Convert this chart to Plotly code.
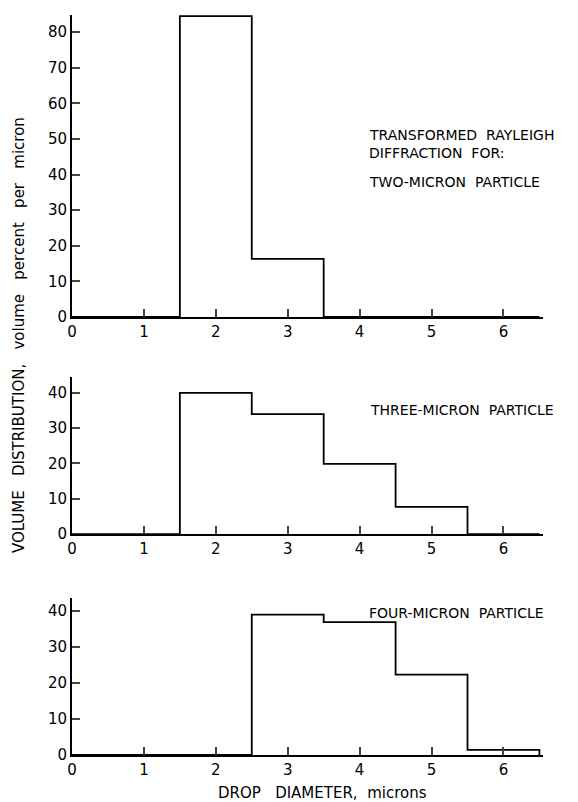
import plotly.graph_objects as go

edges = [0, 1.5, 2.5, 3.5, 4.5, 5.5, 6.5]
two_micron = [0, 84.5, 16.3, 0, 0, 0]
three_micron = [0, 40, 34, 19.9, 7.7, 0]
four_micron = [0, 0, 39, 36.9, 22.3, 1.4]
x_ticks = [0, 1, 2, 3, 4, 5, 6]
labels = ["TWO-MICRON PARTICLE", "THREE-MICRON PARTICLE", "FOUR-MICRON PARTICLE"]

FONT = "DejaVu Sans"
nb = "\u00a0"

# page body has an 8px margin; the plot area is placed to match the reference
W, H = 570, 794
fig = go.Figure()

series = [two_micron, three_micron, four_micron]
axes = [("x", "y"), ("x2", "y2"), ("x3", "y3")]
for vals, (xa, ya) in zip(series, axes):
    xs = list(edges)
    ys = list(vals) + [0]
    fig.add_trace(go.Scatter(x=xs, y=ys, mode="lines", line=dict(shape="hv", color="black", width=1.8),
                             xaxis=xa, yaxis=ya, showlegend=False, hoverinfo="skip"))

tickfont = dict(family=FONT, size=15, color="black")
xcommon = dict(range=[0, 6.55], tickvals=x_ticks, ticks="inside", ticklen=8, tickwidth=1.8,
               showline=True, linecolor="black", linewidth=2, showgrid=False, zeroline=False,
               tickfont=tickfont)
ycommon = dict(ticks="inside", ticklen=8, tickwidth=1.8, showline=True, linecolor="black",
               linewidth=2, showgrid=False, zeroline=False, tickfont=tickfont)

fig.update_layout(
    width=W, height=H, plot_bgcolor="white", paper_bgcolor="white",
    margin=dict(l=64, r=35, t=7, b=47),
    xaxis=dict(domain=[0, 1], anchor="y", **xcommon),
    yaxis=dict(domain=[0.592, 1.0], range=[0, 84.8], tickvals=list(range(0, 90, 10)), anchor="x", **ycommon),
    xaxis2=dict(domain=[0, 1], anchor="y2", **xcommon),
    yaxis2=dict(domain=[0.2986, 0.5108], range=[0, 44.5], tickvals=[0, 10, 20, 30, 40], anchor="x2", **ycommon),
    xaxis3=dict(domain=[0, 1], anchor="y3", **xcommon),
    yaxis3=dict(domain=[0, 0.2122], range=[0, 43.6], tickvals=[0, 10, 20, 30, 40], anchor="x3", **ycommon),
)

PX0, PW = 72, 463   # page x of plot left, plot width
PY1, PH = 755, 740  # page y of plot bottom, plot height


def px(x):
    return (x - PX0) / PW


def py(y):
    return (PY1 - y) / PH


ann_font = dict(family=FONT, size=14, color="black")
texts = [
    (362, 135, f"TRANSFORMED{nb*2}RAYLEIGH"),
    (362, 153, f"DIFFRACTION{nb*2}FOR:"),
    (362, 182, labels[0].replace(" ", nb * 2)),
    (363, 410, labels[1].replace(" ", nb * 2)),
    (362, 613, labels[2].replace(" ", nb * 2)),
]
for x, y, t in texts:
    fig.add_annotation(xref="paper", yref="paper", x=px(x), y=py(y), text=t, showarrow=False,
                       xanchor="left", yanchor="middle", font=ann_font)

ytitle = f"VOLUME{nb*3}DISTRIBUTION,{nb*3}volume{nb*3}percent{nb*3}per{nb*3}micron"
fig.add_annotation(xref="paper", yref="paper", x=px(20), y=py(335), text=ytitle,
                   textangle=-90, showarrow=False, xanchor="center", yanchor="middle",
                   font=dict(family=FONT, size=15, color="black"))
fig.add_annotation(xref="paper", yref="paper", x=px(318), y=py(793),
                   text=f"DROP{nb*3}DIAMETER,{nb*2}microns", showarrow=False, xanchor="center",
                   yanchor="middle", font=dict(family=FONT, size=15, color="black"))

fig.write_html("out.html")
